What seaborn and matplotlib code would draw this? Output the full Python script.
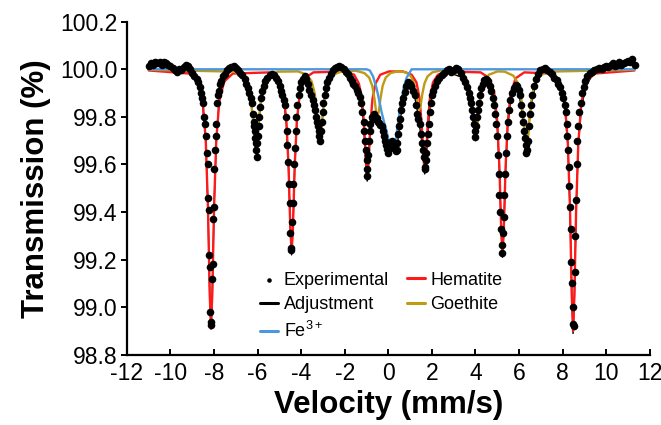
import seaborn as sns
import matplotlib.pyplot as plt
from matplotlib.ticker import FormatStrFormatter, MultipleLocator

# experimental spectrum
vel = [-11.00, -10.90, -10.80, -10.70, -10.60, -10.50, -10.40, -10.30, -10.20, -10.10,
       -10.00, -9.90, -9.80, -9.70, -9.60, -9.50, -9.40, -9.30, -9.20, -9.10,
       -9.00, -8.90, -8.80, -8.72, -8.65, -8.58, -8.54, -8.50, -8.45, -8.41,
       -8.37, -8.33, -8.30, -8.27, -8.24, -8.21, -8.19, -8.17, -8.15, -8.13,
       -8.10, -8.07, -8.04, -8.01, -7.98, -7.95, -7.92, -7.89, -7.86, -7.82,
       -7.77, -7.72, -7.66, -7.58, -7.50, -7.40, -7.30, -7.20, -7.10, -7.00,
       -6.90, -6.80, -6.70, -6.60, -6.52, -6.45, -6.38, -6.32, -6.27, -6.22,
       -6.18, -6.15, -6.12, -6.10, -6.08, -6.06, -6.04, -6.01, -5.98, -5.95,
       -5.92, -5.88, -5.84, -5.78, -5.72, -5.64, -5.55, -5.45, -5.35, -5.25,
       -5.15, -5.06, -4.98, -4.92, -4.86, -4.80, -4.75, -4.71, -4.67, -4.63,
       -4.59, -4.56, -4.53, -4.50, -4.47, -4.45, -4.42, -4.39, -4.36, -4.33,
       -4.30, -4.26, -4.22, -4.17, -4.12, -4.06, -3.99, -3.92, -3.84, -3.76,
       -3.69, -3.62, -3.55, -3.48, -3.42, -3.37, -3.32, -3.28, -3.24, -3.20,
       -3.16, -3.13, -3.09, -3.06, -3.02, -2.98, -2.93, -2.87, -2.80, -2.72,
       -2.64, -2.55, -2.45, -2.35, -2.25, -2.15, -2.05, -1.95, -1.86, -1.77,
       -1.68, -1.60, -1.52, -1.45, -1.38, -1.31, -1.24, -1.19, -1.14, -1.10,
       -1.06, -1.03, -1.00, -0.98, -0.96, -0.93, -0.90, -0.86, -0.82, -0.77,
       -0.72, -0.67, -0.62, -0.57, -0.52, -0.47, -0.42, -0.37, -0.31, -0.26,
       -0.21, -0.16, -0.11, -0.06, -0.01, 0.04, 0.09, 0.14, 0.19, 0.24,
       0.29, 0.34, 0.38, 0.42, 0.46, 0.50, 0.54, 0.59, 0.64, 0.69,
       0.75, 0.82, 0.90, 0.98, 1.06, 1.14, 1.21, 1.27, 1.33, 1.38,
       1.44, 1.50, 1.55, 1.59, 1.63, 1.66, 1.69, 1.72, 1.75, 1.78,
       1.81, 1.85, 1.89, 1.94, 2.00, 2.07, 2.15, 2.24, 2.34, 2.45,
       2.56, 2.67, 2.78, 2.89, 3.00, 3.11, 3.22, 3.32, 3.42, 3.52,
       3.60, 3.68, 3.75, 3.81, 3.86, 3.90, 3.94, 3.97, 4.00, 4.03,
       4.07, 4.11, 4.15, 4.20, 4.26, 4.33, 4.41, 4.49, 4.57, 4.65,
       4.72, 4.79, 4.85, 4.90, 4.95, 4.99, 5.03, 5.07, 5.10, 5.13,
       5.16, 5.20, 5.23, 5.27, 5.30, 5.33, 5.36, 5.39, 5.43, 5.47,
       5.53, 5.60, 5.68, 5.76, 5.84, 5.92, 5.98, 6.04, 6.09, 6.14,
       6.19, 6.23, 6.27, 6.30, 6.33, 6.36, 6.40, 6.44, 6.49, 6.54,
       6.60, 6.67, 6.76, 6.86, 6.97, 7.08, 7.19, 7.30, 7.41, 7.52,
       7.62, 7.72, 7.81, 7.90, 7.97, 8.03, 8.09, 8.14, 8.18, 8.22,
       8.25, 8.28, 8.31, 8.34, 8.37, 8.40, 8.43, 8.46, 8.49, 8.52,
       8.55, 8.58, 8.61, 8.64, 8.68, 8.72, 8.77, 8.83, 8.90, 8.97,
       9.05, 9.14, 9.24, 9.35, 9.46, 9.57, 9.68, 9.79, 9.90, 10.00,
       10.10, 10.20, 10.30, 10.40, 10.50, 10.60, 10.70, 10.80, 10.90, 11.00,
       11.10, 11.20, 11.30]
trans = [100.015, 100.025, 100.020, 100.030, 100.025, 100.030, 100.020, 100.030, 100.025, 100.020,
         100.015, 100.005, 99.995, 99.990, 100.000, 99.995, 100.010, 100.020, 100.015, 100.000,
         99.985, 99.970, 99.960, 99.945, 99.925, 99.900, 99.880, 99.860, 99.800, 99.770,
         99.720, 99.650, 99.600, 99.460, 99.410, 99.220, 99.170, 98.980, 98.940, 98.925,
         99.120, 99.180, 99.370, 99.420, 99.580, 99.660, 99.720, 99.770, 99.860, 99.890,
         99.910, 99.940, 99.950, 99.970, 99.980, 99.995, 100.005, 100.010, 100.015, 100.005,
         99.995, 99.985, 99.975, 99.960, 99.940, 99.920, 99.900, 99.880, 99.860, 99.810,
         99.780, 99.760, 99.740, 99.710, 99.690, 99.660, 99.630, 99.690, 99.720, 99.760,
         99.800, 99.840, 99.880, 99.910, 99.930, 99.950, 99.965, 99.975, 99.980, 99.975,
         99.965, 99.950, 99.930, 99.910, 99.890, 99.870, 99.850, 99.800, 99.740, 99.680,
         99.610, 99.520, 99.440, 99.310, 99.250, 99.240, 99.360, 99.440, 99.520, 99.600,
         99.670, 99.740, 99.800, 99.850, 99.890, 99.920, 99.945, 99.960, 99.970, 99.960,
         99.940, 99.915, 99.890, 99.870, 99.850, 99.830, 99.800, 99.780, 99.760, 99.740,
         99.720, 99.700, 99.740, 99.780, 99.820, 99.860, 99.890, 99.920, 99.945, 99.965,
         99.980, 99.995, 100.005, 100.010, 100.015, 100.010, 100.000, 99.990, 99.980, 99.965,
         99.950, 99.940, 99.930, 99.915, 99.900, 99.885, 99.860, 99.820, 99.780, 99.740,
         99.700, 99.660, 99.620, 99.580, 99.550, 99.640, 99.700, 99.740, 99.770, 99.800,
         99.790, 99.810, 99.800, 99.790, 99.795, 99.780, 99.775, 99.765, 99.760, 99.740,
         99.720, 99.700, 99.680, 99.665, 99.650, 99.665, 99.675, 99.690, 99.700, 99.680,
         99.665, 99.655, 99.660, 99.690, 99.730, 99.760, 99.790, 99.830, 99.860, 99.880,
         99.905, 99.930, 99.945, 99.940, 99.930, 99.910, 99.890, 99.850, 99.810, 99.790,
         99.770, 99.730, 99.690, 99.660, 99.630, 99.590, 99.580, 99.620, 99.650, 99.690,
         99.730, 99.770, 99.820, 99.860, 99.890, 99.910, 99.930, 99.950, 99.965, 99.975,
         99.985, 99.995, 100.000, 99.990, 99.995, 100.005, 100.000, 99.985, 99.965, 99.945,
         99.925, 99.900, 99.880, 99.860, 99.830, 99.800, 99.770, 99.740, 99.715, 99.760,
         99.800, 99.830, 99.860, 99.890, 99.920, 99.940, 99.955, 99.960, 99.950, 99.930,
         99.910, 99.880, 99.850, 99.810, 99.770, 99.720, 99.640, 99.560, 99.470, 99.400,
         99.330, 99.260, 99.230, 99.310, 99.380, 99.470, 99.560, 99.650, 99.720, 99.780,
         99.830, 99.870, 99.900, 99.920, 99.935, 99.930, 99.915, 99.890, 99.850, 99.810,
         99.780, 99.740, 99.710, 99.680, 99.650, 99.660, 99.700, 99.760, 99.810, 99.850,
         99.890, 99.930, 99.960, 99.980, 99.995, 100.000, 100.005, 99.995, 99.990, 99.980,
         99.965, 99.955, 99.940, 99.925, 99.900, 99.880, 99.850, 99.820, 99.770, 99.720,
         99.660, 99.590, 99.510, 99.420, 99.330, 99.190, 99.100, 99.000, 98.930, 98.920,
         99.150, 99.300, 99.450, 99.600, 99.700, 99.760, 99.820, 99.860, 99.900, 99.925,
         99.950, 99.970, 99.985, 99.990, 99.995, 100.000, 100.005, 100.000, 100.010, 100.015,
         100.010, 100.020, 100.025, 100.015, 100.020, 100.030, 100.020, 100.025, 100.030, 100.035,
         100.030, 100.045, 100.020]

# hematite sextet sub-spectrum
hem_vel = [-11.00,
           -9.14, -8.74, -8.52, -8.38, -8.28, -8.20, -8.14, -8.08, -8.00, -7.90, -7.76, -7.54, -7.14,
           -5.44, -5.04, -4.82, -4.68, -4.58, -4.50, -4.44, -4.38, -4.30, -4.20, -4.06, -3.84, -3.44,
           -1.97, -1.57, -1.35, -1.21, -1.11, -1.03, -0.97, -0.91, -0.83, -0.73, -0.59, -0.37, 0.03,
           0.67, 1.07, 1.29, 1.43, 1.53, 1.61, 1.67, 1.73, 1.81, 1.91, 2.05, 2.27, 2.67,
           4.24, 4.64, 4.86, 5.00, 5.10, 5.18, 5.24, 5.30, 5.38, 5.48, 5.62, 5.84, 6.24,
           7.48, 7.88, 8.10, 8.24, 8.34, 8.42, 8.48, 8.54, 8.62, 8.72, 8.86, 9.08, 9.48,
           11.30]
hem_trans = [99.995,
             99.982, 99.948, 99.865, 99.700, 99.420, 99.060, 98.910, 99.060, 99.420, 99.700, 99.865, 99.948, 99.982,
             99.987, 99.962, 99.900, 99.785, 99.590, 99.335, 99.230, 99.335, 99.590, 99.785, 99.900, 99.962, 99.987,
             99.991, 99.977, 99.940, 99.875, 99.760, 99.610, 99.550, 99.610, 99.760, 99.875, 99.940, 99.977, 99.991,
             99.991, 99.977, 99.945, 99.880, 99.770, 99.630, 99.570, 99.630, 99.770, 99.880, 99.945, 99.977, 99.991,
             99.987, 99.962, 99.900, 99.780, 99.585, 99.330, 99.220, 99.330, 99.585, 99.780, 99.900, 99.962, 99.987,
             99.982, 99.948, 99.860, 99.690, 99.410, 99.050, 98.900, 99.050, 99.410, 99.690, 99.860, 99.948, 99.982,
             99.995]

# goethite sextet sub-spectrum
goe_vel = [-11.00,
           -7.08, -6.68, -6.46, -6.32, -6.22, -6.14, -6.08, -6.02, -5.94, -5.84, -5.70, -5.48, -5.08,
           -4.14, -3.74, -3.52, -3.38, -3.28, -3.20, -3.14, -3.08, -3.00, -2.90, -2.76, -2.54, -2.14,
           -1.50, -1.10, -0.88, -0.74, -0.64, -0.56, -0.50, -0.44, -0.36, -0.26, -0.12, 0.10, 0.45,
           0.82, 1.04, 1.18, 1.28, 1.36, 1.42, 1.48, 1.56, 1.66, 1.80, 2.02, 2.42,
           3.01, 3.41, 3.63, 3.77, 3.87, 3.95, 4.01, 4.07, 4.15, 4.25, 4.39, 4.61, 5.01,
           5.34, 5.74, 5.96, 6.10, 6.20, 6.28, 6.34, 6.40, 6.48, 6.58, 6.72, 6.94, 7.34,
           11.30]
goe_trans = [99.998,
             99.990, 99.973, 99.940, 99.882, 99.793, 99.696, 99.660, 99.696, 99.793, 99.882, 99.940, 99.973, 99.990,
             99.991, 99.977, 99.949, 99.899, 99.823, 99.740, 99.710, 99.740, 99.823, 99.899, 99.949, 99.977, 99.991,
             99.994, 99.984, 99.965, 99.931, 99.878, 99.821, 99.800, 99.821, 99.878, 99.931, 99.965, 99.984, 99.992,
             99.987, 99.970, 99.941, 99.896, 99.848, 99.830, 99.848, 99.896, 99.941, 99.970, 99.987, 99.995,
             99.991, 99.977, 99.949, 99.899, 99.823, 99.740, 99.710, 99.740, 99.823, 99.899, 99.949, 99.977, 99.991,
             99.990, 99.973, 99.940, 99.882, 99.793, 99.696, 99.660, 99.696, 99.793, 99.882, 99.940, 99.973, 99.990,
             99.998]

# Fe3+ sub-spectrum
fe_vel = [-11.00, -1.00, -0.85, -0.70, -0.54, -0.42, -0.31, -0.20, -0.08, 0.02, 0.10, 0.18,
          0.26, 0.34, 0.44, 0.53, 0.62, 0.70, 0.84, 1.07, 11.30]
fe_trans = [100.000, 100.000, 99.995, 99.970, 99.920, 99.870, 99.820, 99.780, 99.740, 99.700, 99.670, 99.660,
            99.665, 99.700, 99.770, 99.830, 99.880, 99.920, 99.965, 100.000, 100.000]

# total fit (adjustment)
adj_vel = [-11.00, -9.50, -9.00, -8.74, -8.52, -8.38, -8.28, -8.20, -8.14, -8.08, -8.00, -7.90, -7.76, -7.54, -7.14,
           -6.70, -6.46, -6.32, -6.22, -6.14, -6.08, -6.02, -5.94, -5.84, -5.70, -5.48, -5.20,
           -4.82, -4.68, -4.58, -4.50, -4.44, -4.38, -4.30, -4.20, -4.06, -3.84,
           -3.52, -3.38, -3.28, -3.20, -3.14, -3.08, -3.00, -2.90, -2.76, -2.40, -2.00,
           -1.57, -1.35, -1.21, -1.11, -1.03, -0.97, -0.91, -0.83, -0.73, -0.62, -0.50, -0.35, -0.20,
           -0.10, -0.02, 0.10, 0.20, 0.30, 0.40, 0.50, 0.60, 0.72, 0.90, 1.10, 1.29, 1.40, 1.53,
           1.61, 1.67, 1.73, 1.81, 1.91, 2.05, 2.27, 2.67,
           3.41, 3.63, 3.77, 3.87, 3.95, 4.01, 4.07, 4.15, 4.25, 4.39, 4.64,
           4.86, 5.00, 5.10, 5.18, 5.24, 5.30, 5.38, 5.48, 5.62, 5.84,
           5.96, 6.10, 6.20, 6.28, 6.34, 6.40, 6.48, 6.58, 6.72, 6.94, 7.34,
           7.88, 8.10, 8.24, 8.34, 8.42, 8.48, 8.54, 8.62, 8.72, 8.86, 9.08, 9.48, 10.00, 11.30]
adj_trans = [100.020, 99.995, 99.985, 99.940, 99.850, 99.690, 99.420, 99.060, 98.910, 99.060, 99.420, 99.690, 99.880, 99.975, 100.005,
             99.975, 99.930, 99.875, 99.790, 99.700, 99.650, 99.690, 99.780, 99.870, 99.930, 99.970, 99.975,
             99.880, 99.770, 99.580, 99.330, 99.220, 99.330, 99.580, 99.770, 99.900, 99.965,
             99.905, 99.860, 99.800, 99.730, 99.700, 99.740, 99.820, 99.900, 99.960, 100.005, 99.995,
             99.935, 99.905, 99.840, 99.730, 99.590, 99.530, 99.600, 99.740, 99.785, 99.800, 99.790, 99.765, 99.720,
             99.680, 99.650, 99.670, 99.690, 99.660, 99.670, 99.750, 99.820, 99.890, 99.940, 99.925, 99.850, 99.780, 99.700,
             99.620, 99.560, 99.610, 99.730, 99.840, 99.905, 99.955, 99.990,
             99.965, 99.915, 99.870, 99.800, 99.735, 99.700, 99.750, 99.820, 99.890, 99.950, 99.940,
             99.870, 99.760, 99.570, 99.320, 99.210, 99.320, 99.570, 99.760, 99.870, 99.930,
             99.915, 99.840, 99.770, 99.690, 99.650, 99.690, 99.790, 99.860, 99.920, 99.990, 99.995,
             99.930, 99.840, 99.680, 99.410, 99.040, 98.890, 99.040, 99.410, 99.680, 99.840, 99.930, 99.995, 100.010, 100.030]

x_ticks = list(range(-12, 13, 2))

sns.set_theme(style="ticks")
plt.rcParams['font.family'] = ['Liberation Sans', 'DejaVu Sans']
plt.rcParams['mathtext.default'] = 'regular'
plt.rcParams['axes.unicode_minus'] = False
plt.rcParams['text.color'] = 'black'
plt.rcParams['axes.labelcolor'] = 'black'

fig = plt.figure(figsize=(6.61, 4.25), dpi=100)
ax = fig.add_axes([0.192, 0.165, 0.791, 0.784])

sns.lineplot(x=adj_vel, y=adj_trans, color='black', lw=1.0, estimator=None, sort=False,
             ax=ax, label='Adjustment', zorder=1)
sns.lineplot(x=hem_vel, y=hem_trans, color='#ff1a1a', lw=1.7, estimator=None, sort=False,
             ax=ax, label='Hematite', zorder=2)
sns.lineplot(x=goe_vel, y=goe_trans, color='#c09a10', lw=1.7, estimator=None, sort=False,
             ax=ax, label='Goethite', zorder=2)
sns.lineplot(x=fe_vel, y=fe_trans, color='#4c98e0', lw=1.7, estimator=None, sort=False,
             ax=ax, label='Fe$^{3+}$', zorder=3)
sns.scatterplot(x=vel, y=trans, color='black', s=30, linewidth=0, ax=ax,
                label='Experimental', zorder=4)

ax.set_xlim(-12, 12)
ax.set_ylim(98.8, 100.2)
ax.set_xticks(x_ticks)
ax.yaxis.set_major_locator(MultipleLocator(0.2))
ax.yaxis.set_major_formatter(FormatStrFormatter('%.1f'))

for side in ['top', 'right']:
    ax.spines[side].set_visible(False)
for side in ['left', 'bottom']:
    ax.spines[side].set_linewidth(1.6)
    ax.spines[side].set_color('black')

ax.tick_params(axis='y', direction='out', length=4, width=1.4, labelsize=16.5, pad=3,
               colors='black')
ax.tick_params(axis='x', direction='in', length=4, width=1.4, labelsize=16.5, pad=5,
               colors='black')

ax.set_xlabel('Velocity (mm/s)', fontsize=22.5, fontweight='bold', labelpad=4)
ax.set_ylabel('Transmission (%)', fontsize=22.5, fontweight='bold', labelpad=6)

handles, labels = ax.get_legend_handles_labels()
order = ['Experimental', 'Adjustment', 'Fe$^{3+}$', 'Hematite', 'Goethite']
hmap = dict(zip(labels, handles))
leg = ax.legend([hmap[k] for k in order], order, ncol=2, loc='upper left',
                bbox_to_anchor=(0.255, 0.25), frameon=False, fontsize=13,
                handlelength=1.0, handletextpad=0.3, columnspacing=1.0,
                labelspacing=0.42, markerscale=0.6, borderaxespad=0, borderpad=0)
for line in leg.get_lines():
    line.set_linewidth(2.2)

fig.savefig('out.png', dpi=100)
